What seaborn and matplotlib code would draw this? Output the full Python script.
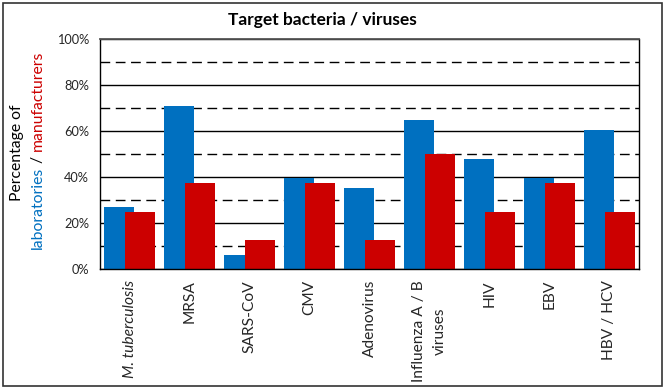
import matplotlib
matplotlib.use("Agg")
import matplotlib.pyplot as plt
from matplotlib.patches import Rectangle
import seaborn as sns
import pandas as pd
import numpy as np

# ---- data ----
categories = ["M. tuberculosis", "MRSA", "SARS-CoV", "CMV", "Adenovirus",
              "Influenza A / B\nviruses", "HIV", "EBV", "HBV / HCV"]
laboratories = [27, 71, 6, 39.5, 35.2, 64.6, 47.8, 39.5, 60.4]
manufacturers = [25, 37.5, 12.5, 37.5, 12.5, 50, 25, 37.5, 25]
groups = ["laboratories", "manufacturers"]
colors = ["#0070C0", "#CC0000"]
y_major = [0, 20, 40, 60, 80, 100]
y_minor = [10, 30, 50, 70, 90]
y_tick_labels = ["0%", "20%", "40%", "60%", "80%", "100%"]
title = "Target bacteria / viruses"

sns.set_theme(style="white")
plt.rcParams["font.family"] = ["Lato", "DejaVu Sans"]

df = pd.DataFrame({
    "category": categories * 2,
    "value": laboratories + manufacturers,
    "group": [groups[0]] * len(categories) + [groups[1]] * len(categories),
})

W, H = 665, 390
fig = plt.figure(figsize=(W / 100, H / 100), dpi=100)
ax = fig.add_axes([100 / W, 1 - 269 / H, 539 / W, 230 / H])

sns.barplot(data=df, x="category", y="value", hue="group", hue_order=groups,
            palette=colors, saturation=1, width=0.7, gap=-3 / 7, dodge=True,
            legend=False, ax=ax, edgecolor="none", linewidth=0, errorbar=None)

ax.set_ylim(0, 100)
ax.set_xlim(-0.5, len(categories) - 0.5)
ax.set_yticks(y_major)
ax.set_yticklabels(y_tick_labels, fontsize=9.2)
ax.set_yticks(y_minor, minor=True)
ax.set_axisbelow(True)
ax.grid(which="major", axis="y", color="black", lw=1.0)
ax.grid(which="minor", axis="y", color="black", lw=1.0, ls=(0, (7, 4)))
ax.grid(which="both", axis="x", visible=False)

ax.set_xticks(range(len(categories)))
ax.set_xticklabels(categories, rotation=90, fontsize=11.2, ha="center", va="top",
                   multialignment="center", linespacing=1.6)
ax.get_xticklabels()[0].set_fontstyle("italic")
ax.set_xticks(np.arange(-0.5, len(categories), 1.0), minor=True)
ax.tick_params(axis="x", which="major", length=0, pad=8)
ax.tick_params(axis="x", which="minor", length=5, width=1, color="black", direction="out")
ax.tick_params(axis="y", which="major", length=5, width=1, color="black", direction="out", pad=3)
ax.tick_params(axis="y", which="minor", length=0)
ax.set_xlabel("")
ax.set_ylabel("")

for s in ["left", "bottom", "right"]:
    ax.spines[s].set_visible(True)
    ax.spines[s].set_color("black")
    ax.spines[s].set_linewidth(1.0)
ax.spines["top"].set_visible(True)
ax.spines["top"].set_color("#555555")
ax.spines["top"].set_linewidth(1.3)

# title
fig.text(322 / W, 1 - 25 / H, title, ha="center", va="baseline",
         fontsize=12.5, fontweight="bold", color="black")

# y label (two lines, multicolour second line)
fs_lab = 11.3
fig.text(17 / W, 1 - 153 / H, "Percentage of", rotation=90, ha="center",
         va="center", fontsize=fs_lab, color="black")
pieces = [("laboratories", colors[0]), (" / ", "black"), ("manufacturers", colors[1])]
fig.canvas.draw()
renderer = fig.canvas.get_renderer()
texts = []
for s, c in pieces:
    t = fig.text(0, 0, s, rotation=90, ha="center", va="bottom", fontsize=fs_lab, color=c)
    texts.append(t)
heights = [t.get_window_extent(renderer).height for t in texts]
total = sum(heights)
y_center = H - 150
y = y_center - total / 2
for t, h in zip(texts, heights):
    t.set_position((38 / W, y / H))
    y += h

# figure border
fig.patches.append(Rectangle((3 / W, 4 / H), 659 / W, 383 / H, transform=fig.transFigure,
                             fill=False, edgecolor="#333333", lw=1.2))

fig.savefig("out.png", dpi=100)
